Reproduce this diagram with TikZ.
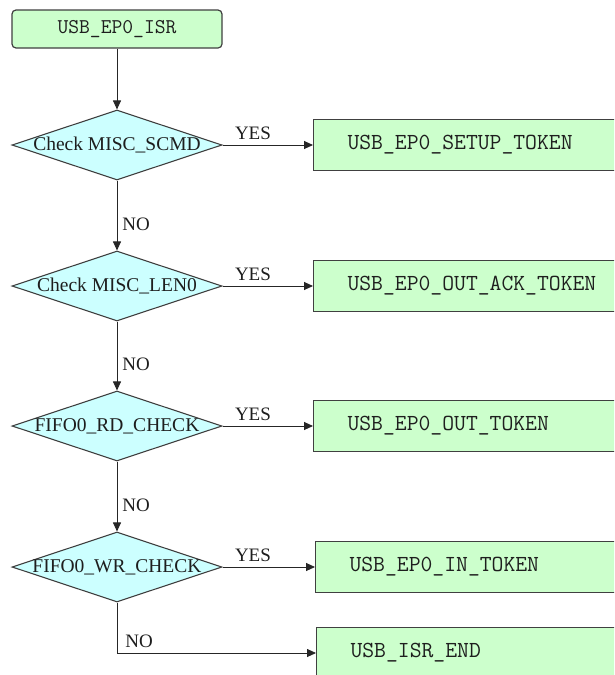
\documentclass[tikz,border=0pt]{standalone}
\usepackage{fontspec}
\setmainfont{Liberation Serif}
\usetikzlibrary{shapes.geometric,arrows.meta}
\definecolor{boxgreen}{RGB}{204,255,204}
\definecolor{dcyan}{RGB}{204,255,255}
\definecolor{edgegray}{RGB}{64,64,64}
\definecolor{txt}{RGB}{30,30,30}
\begin{document}
\begin{tikzpicture}[x=1pt,y=-1pt,
 startbox/.style={draw=edgegray, line width=1.2pt, fill=boxgreen, rounded corners=4pt, minimum width=210pt, minimum height=38pt, inner sep=0pt, text=txt, font=\ttfamily\fontsize{21}{23}\selectfont},
 actbox/.style={draw=edgegray, line width=1.1pt, fill=boxgreen, minimum height=51pt, text width=290pt, inner xsep=34pt, inner ysep=0pt, align=left, text=txt, font=\ttfamily\fontsize{23}{25}\selectfont},
 decide/.style={diamond, draw=edgegray, line width=1.1pt, fill=dcyan, minimum width=210pt, minimum height=70pt, inner sep=0pt, text=txt, font=\fontsize{19.5}{21}\selectfont},
 arr/.style={draw=black!85, line width=0.9pt, -{Triangle[length=9pt,width=8pt]}},
 lbl/.style={inner sep=0pt, text=txt, font=\fontsize{19}{21}\selectfont},
]
\useasboundingbox (0,0) rectangle (614,675);
\clip (0,0) rectangle (614,675);
\fill[white] (0,0) rectangle (614,675);

\node[startbox] (s) at (117,29) {USB\_EP0\_ISR};

\node[decide] (d1) at (117,145) {\makebox[0pt]{Check MISC\_SCMD}};
\node[decide] (d2) at (117,286) {\makebox[0pt]{Check MISC\_LEN0}};
\node[decide] (d3) at (117,426) {\makebox[0pt]{FIFO0\_RD\_CHECK}};
\node[decide] (d4) at (117,567) {\makebox[0pt]{FIFO0\_WR\_CHECK}};

\node[actbox, anchor=west] (b1) at (313,145) {USB\_EP0\_SETUP\_TOKEN};
\node[actbox, anchor=west] (b2) at (313,286) {USB\_EP0\_OUT\_ACK\_TOKEN};
\node[actbox, anchor=west] (b3) at (313,426) {USB\_EP0\_OUT\_TOKEN};
\node[actbox, anchor=west] (b4) at (315,567) {USB\_EP0\_IN\_TOKEN};
\node[actbox, anchor=west] (b5) at (316,653) {USB\_ISR\_END};

\draw[arr] (s) -- (d1);

\draw[arr] (d1.east) -- node[lbl, pos=0, anchor=base west, xshift=12pt, yshift=5.5pt]{YES} (b1.west);
\draw[arr] (d2.east) -- node[lbl, pos=0, anchor=base west, xshift=12pt, yshift=5.5pt]{YES} (b2.west);
\draw[arr] (d3.east) -- node[lbl, pos=0, anchor=base west, xshift=12pt, yshift=5.5pt]{YES} (b3.west);
\draw[arr] (d4.east) -- node[lbl, pos=0, anchor=base west, xshift=12pt, yshift=5.5pt]{YES} (b4.west);

\draw[arr] (d1.south) -- node[lbl, pos=0.62, anchor=west, xshift=5pt]{NO} (d2.north);
\draw[arr] (d2.south) -- node[lbl, pos=0.62, anchor=west, xshift=5pt]{NO} (d3.north);
\draw[arr] (d3.south) -- node[lbl, pos=0.62, anchor=west, xshift=5pt]{NO} (d4.north);
\draw[arr] (d4.south) |- node[lbl, pos=0.5, anchor=base west, xshift=8pt, yshift=6pt]{NO} (b5.west);
\end{tikzpicture}
\end{document}
